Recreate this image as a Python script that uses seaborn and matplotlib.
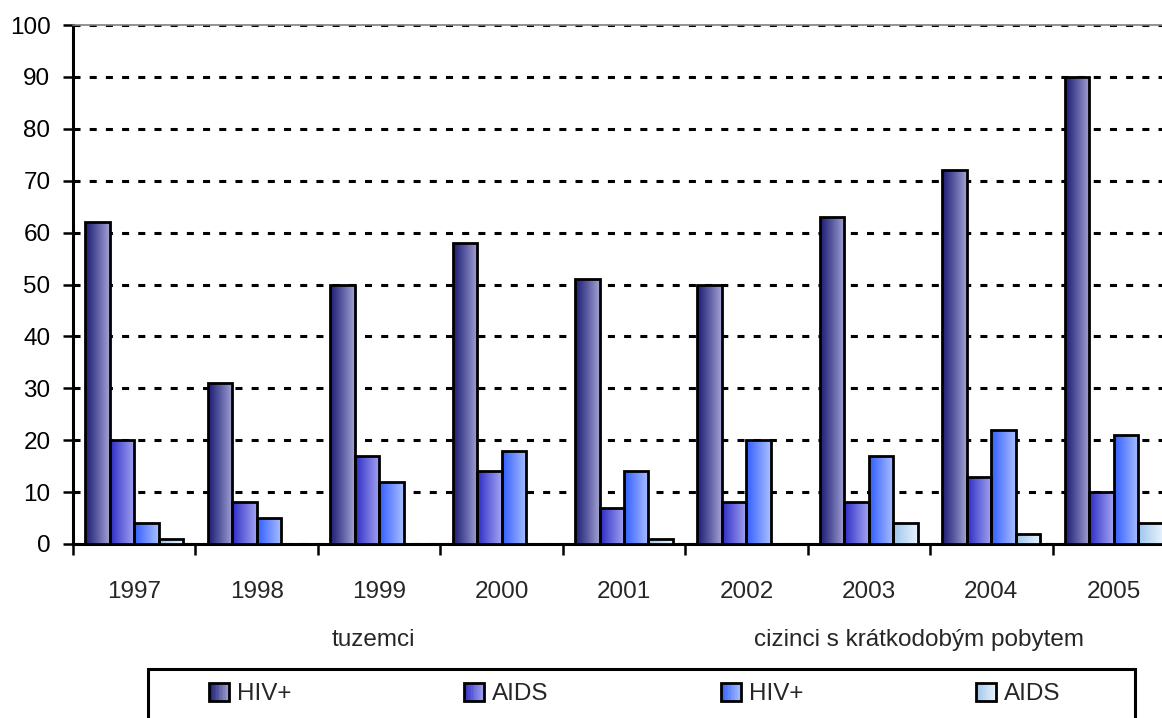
import numpy as np
import pandas as pd
import matplotlib
matplotlib.use("Agg")
import matplotlib.pyplot as plt
import seaborn as sns
from matplotlib.patches import Rectangle
from matplotlib.colors import LinearSegmentedColormap
from matplotlib.legend_handler import HandlerBase

# ---------------- data ----------------
years = ['1997', '1998', '1999', '2000', '2001', '2002', '2003', '2004', '2005']
hiv_tuzemci = [62, 31, 50, 58, 51, 50, 63, 72, 90]
aids_tuzemci = [20, 8, 17, 14, 7, 8, 8, 13, 10]
hiv_cizinci = [4, 5, 12, 18, 14, 20, 17, 22, 21]
aids_cizinci = [1, 0, 0, 0, 1, 0, 4, 2, 4]
series_keys = ['tuz_hiv', 'tuz_aids', 'ciz_hiv', 'ciz_aids']
series_labels = ['HIV+', 'AIDS', 'HIV+', 'AIDS']
group_labels = ['tuzemci', 'cizinci s krátkodobým pobytem']
y_ticks = list(range(0, 101, 10))

# ---------------- style ----------------
sns.set_style('white')
plt.rcParams['font.family'] = ['Liberation Sans', 'DejaVu Sans']
FS = 17.5

grad_colors = {
    'tuz_hiv': ['#1a1a72', '#5c5ca4', '#a4a4d4'],
    'tuz_aids': ['#2a2ac4', '#6a6ade', '#a4a4f0'],
    'ciz_hiv': ['#2f5cff', '#6f8fff', '#a8c0ff'],
    'ciz_aids': ['#9cc4ec', '#c4dcf4', '#e8f2fd'],
}
cmaps = {k: LinearSegmentedColormap.from_list(k, v) for k, v in grad_colors.items()}
mid_palette = {k: v[1] for k, v in grad_colors.items()}

values = [hiv_tuzemci, aids_tuzemci, hiv_cizinci, aids_cizinci]
df = pd.concat([
    pd.DataFrame({'year': years, 'value': vals, 'series': key})
    for key, vals in zip(series_keys, values)
], ignore_index=True)

W, H = 1162, 718
fig = plt.figure(figsize=(W / 100, H / 100), dpi=100)
ax = fig.add_axes([73 / W, (H - 544) / H, 1102 / W, (544 - 25) / H])

sns.barplot(data=df, x='year', y='value', hue='series', hue_order=series_keys,
            order=years, palette=mid_palette, saturation=1, width=0.8,
            edgecolor='black', linewidth=2.0, legend=False, ax=ax, zorder=3)

grad = np.linspace(0, 1, 256)[np.newaxis, :]
for key, cont in zip(series_keys, ax.containers):
    for bar in cont:
        h = bar.get_height()
        if h <= 0:
            bar.set_visible(False)
            continue
        x0, w = bar.get_x(), bar.get_width()
        im = ax.imshow(grad, cmap=cmaps[key], extent=(x0, x0 + w, 0, h),
                       aspect='auto', zorder=2.8, interpolation='bilinear')
        im.set_clip_path(bar)
        bar.set_facecolor('none')

ax.set_xlim(-0.5, len(years) - 0.5)
ax.set_ylim(0, 100)
ax.set_xlabel('')
ax.set_ylabel('')

ax.set_yticks(y_ticks)
ax.yaxis.grid(True, color='black', linewidth=2.2, linestyle=(0, (2.3, 3.0)))
ax.xaxis.grid(False)
ax.set_axisbelow(True)

ax.tick_params(axis='y', which='major', direction='out', length=7.2, width=1.8,
               pad=9, labelsize=FS, left=True, colors='black')
ax.tick_params(axis='x', which='major', length=0, pad=27, labelsize=FS)
ax.set_xticks(np.arange(-0.5, len(years), 1.0), minor=True)
ax.tick_params(axis='x', which='minor', direction='out', length=8, width=1.8,
               bottom=True, color='black')

for s in ['left', 'bottom']:
    ax.spines[s].set_color('black')
    ax.spines[s].set_linewidth(2.2)
ax.spines['top'].set_color('#808080')
ax.spines['top'].set_linewidth(1.2)
ax.spines['right'].set_visible(False)

# group labels
fig.text(373 / W, 1 - 640 / H, group_labels[0], ha='center', va='center', fontsize=FS)
fig.text(919 / W, 1 - 640 / H, group_labels[1], ha='center', va='center', fontsize=FS)

# legend frame
fig.add_artist(Rectangle((148 / W, -0.05), (1135 - 148) / W, 0.05 + (H - 669) / H,
                         transform=fig.transFigure, fill=False, edgecolor='black',
                         linewidth=2.2))


class GradHandler(HandlerBase):
    def __init__(self, cmap):
        super().__init__()
        self.cmap = cmap

    def create_artists(self, legend, orig_handle, xdescent, ydescent, width,
                       height, fontsize, trans):
        arts = []
        n = 14
        for i in range(n):
            c = self.cmap((i + 0.5) / n)
            arts.append(Rectangle((-xdescent + i * width / n, -ydescent), width / n, height,
                                  facecolor=c, edgecolor=c, linewidth=0.6,
                                  transform=trans))
        arts.append(Rectangle((-xdescent, -ydescent), width, height, fill=False,
                              edgecolor='black', linewidth=2.0, transform=trans))
        return arts


handles = [Rectangle((0, 0), 1, 1, label=f'h{i}') for i in range(4)]
handler_map = {h: GradHandler(cmaps[k]) for h, k in zip(handles, series_keys)}
fig.legend(handles, series_labels, handler_map=handler_map, loc='center left',
           bbox_to_anchor=(209 / W, 1 - 694 / H), ncol=4, frameon=False,
           borderpad=0, borderaxespad=0, handlelength=0.82, handleheight=0.82,
           handletextpad=0.33, columnspacing=7.1, fontsize=FS)

fig.savefig('out.png', dpi=100)
